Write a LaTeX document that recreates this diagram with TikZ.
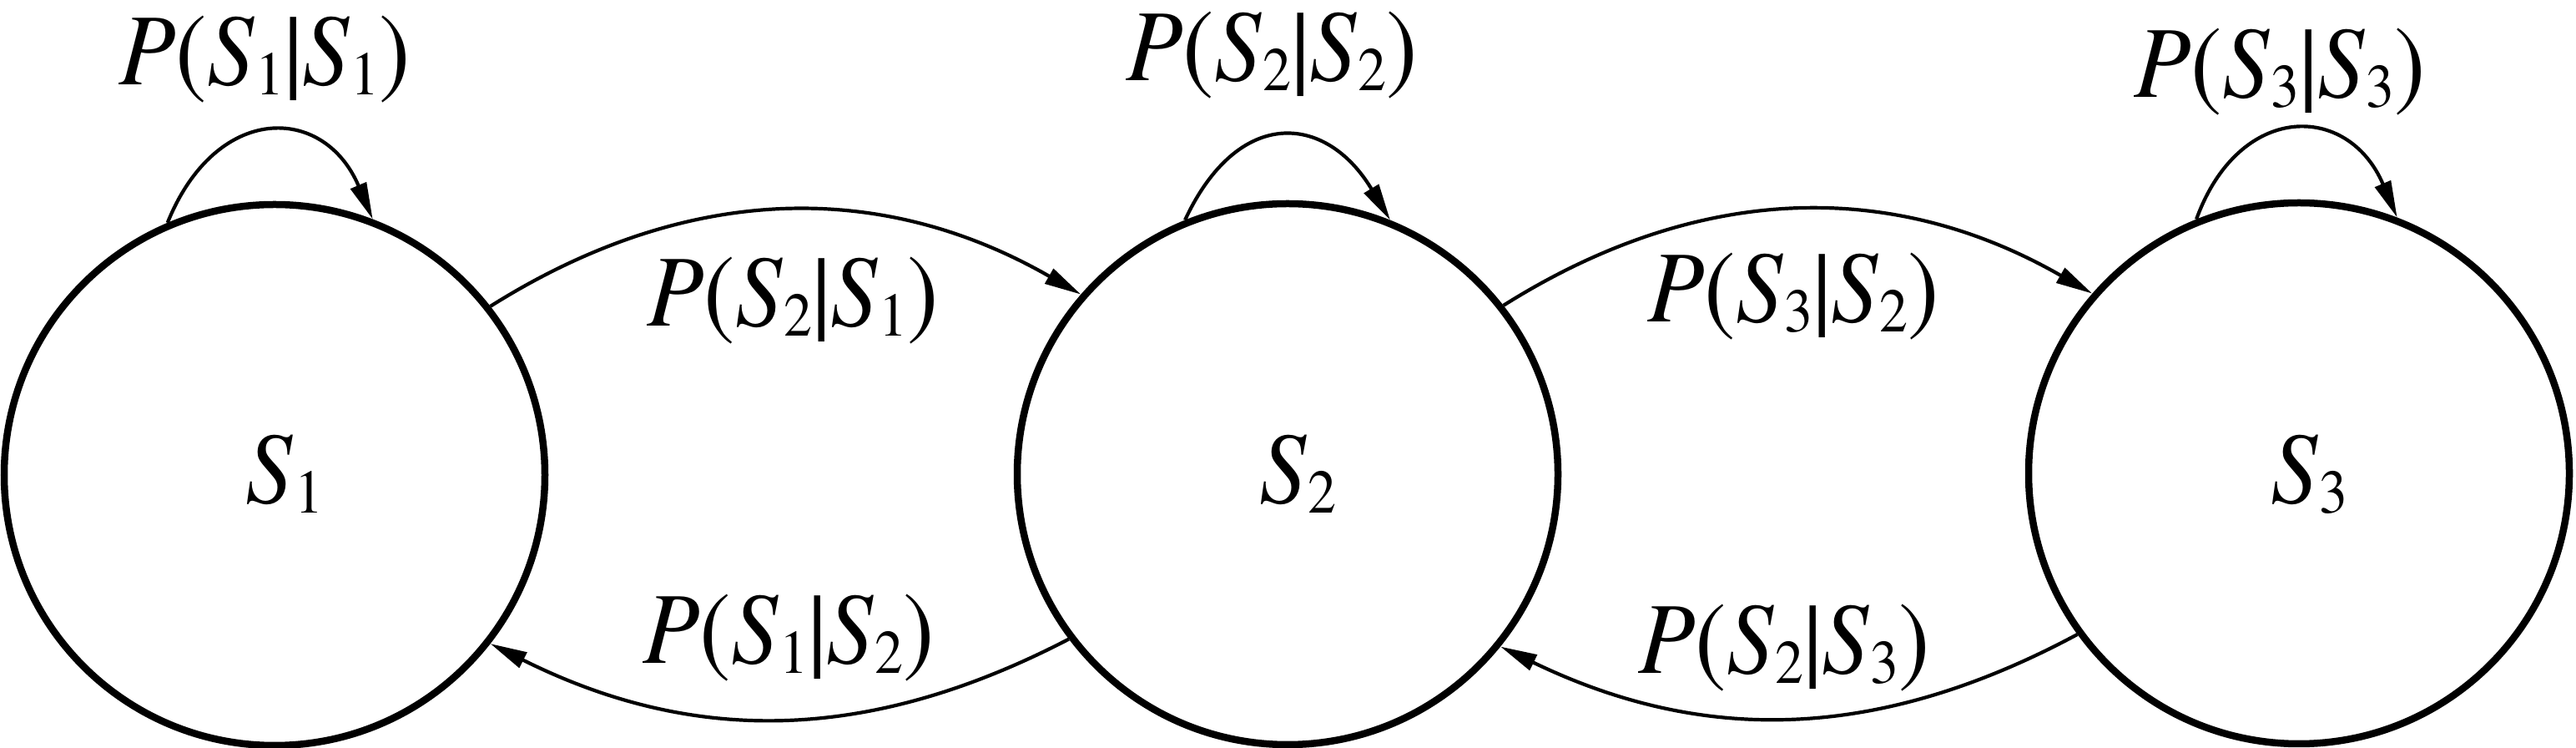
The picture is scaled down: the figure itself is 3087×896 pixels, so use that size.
\documentclass[tikz,border=0pt]{standalone}
\usepackage{fontspec}
\usepackage{graphicx}
\newfontfamily\tnr{texgyretermes}[Extension=.otf,UprightFont=*-regular,ItalicFont=*-italic]
\usetikzlibrary{arrows.meta}
\newcommand{\St}[1]{\textit{S}\kern0.01em\raisebox{-0.1em}{\fontsize{68}{70}\selectfont #1}}
\newcommand{\Prob}[2]{\scalebox{1}[1.09]{\textit{P}(\St{#1}|\St{#2})}}
\newcommand{\Sn}[1]{\scalebox{1}[1.09]{\St{#1}}}
\begin{document}
\begin{tikzpicture}[x=1pt,y=1pt,
  state/.style={circle,draw,line width=8.5pt,minimum size=648pt,inner sep=0pt},
  lab/.style={font=\tnr\fontsize{112}{120}\selectfont,inner sep=0pt},
  arc/.style={line width=4.2pt,-{Triangle[length=44pt,width=20pt]}}]
\useasboundingbox (0,0) rectangle (3087,896);
\node[state] (s1) at (329,327) {};
\node[state] (s2) at (1543,328) {};
\node[state] (s3) at (2755,329) {};
\node[lab] (t1) at (341,328) {\Sn{1}};
\node[lab] (t2) at (1555,328) {\Sn{2}};
\node[lab] (t3) at (2767,328) {\Sn{3}};
\draw[arc] (s1.38) to[bend left=31] (s2.139);
\draw[arc] (s2.217) to[bend left=27] (s1.-38);
\draw[arc] (s2.38.6) to[bend left=31] (s3.139.6);
\draw[arc] (s3.216) to[bend left=27] (s2.-39.4);
\draw[arc] (s1.113) .. controls +(68:155pt) and +(113:150pt) .. (s1.69);
\draw[arc] (s2.112) .. controls +(65:150pt) and +(121:150pt) .. (s2.68.5);
\draw[arc] (s3.112.5) .. controls +(70:150pt) and +(113:150pt) .. (s3.69);
\node[lab] (l11) at (317,825) {\Prob{1}{1}};
\node[lab] (l22) at (1524,830) {\Prob{2}{2}};
\node[lab] (l33) at (2732,810) {\Prob{3}{3}};
\node[lab] (l21) at (950,536) {\Prob{2}{1}};
\node[lab] (l12) at (945,132) {\Prob{1}{2}};
\node[lab] (l32) at (2149,541) {\Prob{3}{2}};
\node[lab] (l23) at (2138,120) {\Prob{2}{3}};
\end{tikzpicture}
\end{document}
